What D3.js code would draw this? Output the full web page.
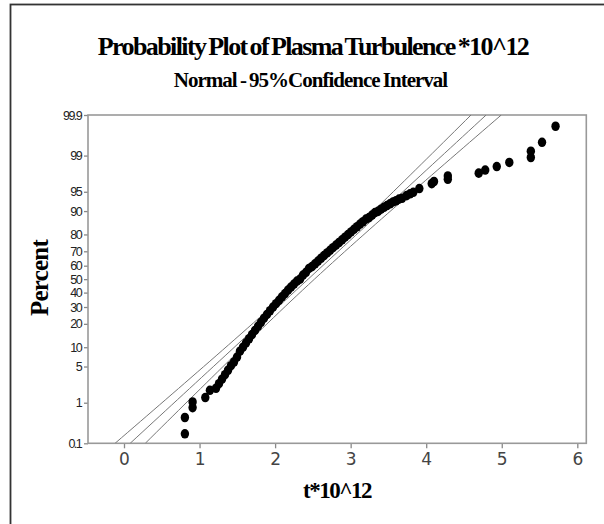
<!DOCTYPE html>
<html>
<head>
<meta charset="utf-8">
<script src="https://cdn.jsdelivr.net/npm/d3@7"></script>
<style>
  body { margin: 0; background: #fff; }
  svg { display: block; }
</style>
</head>
<body>
<svg width="604" height="524"></svg>
<script>
// observed values (t*10^12) and their plotted percent
const tValues = [
  0.806, 0.806, 0.908, 0.908, 1.076, 1.137,
  1.218, 1.257, 1.297, 1.337, 1.377, 1.416, 1.456, 1.496, 1.535, 1.575,
  1.615, 1.655, 1.694, 1.734, 1.774, 1.813, 1.853, 1.893, 1.932, 1.972,
  2.012, 2.052, 2.091, 2.131, 2.171, 2.210, 2.250, 2.290, 2.330, 2.369,
  2.409, 2.449, 2.488, 2.528, 2.568, 2.608, 2.647, 2.687, 2.727, 2.766,
  2.806, 2.846, 2.886, 2.925, 2.965, 3.005, 3.044, 3.084, 3.124, 3.163,
  3.203, 3.243, 3.283, 3.322, 3.362, 3.402, 3.441, 3.481, 3.521, 3.561,
  3.600, 3.640, 3.680,
  3.740, 3.786, 3.829, 3.909, 4.073, 4.103, 4.286, 4.286, 4.695, 4.781,
  4.934, 5.100, 5.385, 5.385, 5.533, 5.712
];
const pctValues = [
  0.18, 0.46, 0.78, 1.04, 1.29, 1.82,
  2.00, 2.45, 2.98, 3.60, 4.32, 5.16, 5.94, 7.11, 8.74, 10.0,
  11.5, 13.1, 14.8, 16.7, 18.7, 20.8, 23.1, 25.3, 27.6, 29.9,
  32.2, 34.5, 36.9, 39.3, 41.8, 44.0, 46.3, 48.5, 50.0, 53.0,
  55.1, 58.0, 59.3, 61.3, 63.3, 65.3, 67.1, 68.9, 70.6, 72.3,
  73.9, 75.5, 77.0, 78.5, 79.9, 81.3, 82.6, 83.8, 85.0, 86.0,
  87.1, 87.7, 88.6, 89.5, 89.9, 90.6, 91.2, 91.7, 92.2, 92.7,
  93.0, 93.4, 93.6,
  94.2, 94.6, 94.9, 95.6, 96.4, 96.7, 97.0, 97.4, 97.7, 98.0,
  98.3, 98.6, 98.9, 99.2, 99.5, 99.8
];

// fitted normal and CI settings
const fitMean = 2.4375;
const fitSd = 0.7623;
const sampleSize = 322;
const zConf = 1.96;

const xTicks = [0, 1, 2, 3, 4, 5, 6];
const pctTicks = [0.1, 1, 5, 10, 20, 30, 40, 50, 60, 70, 80, 90, 95, 99, 99.9];

// inverse normal cdf (Acklam)
const probit = p => {
  const a = [-3.969683028665376e+01, 2.209460984245205e+02, -2.759285104469687e+02, 1.383577518672690e+02, -3.066479806614716e+01, 2.506628277459239e+00];
  const b = [-5.447609879822406e+01, 1.615858368580409e+02, -1.556989798598866e+02, 6.680131188771972e+01, -1.328068155288572e+01];
  const c = [-7.784894002430293e-03, -3.223964580411365e-01, -2.400758277161838e+00, -2.549732539343734e+00, 4.374664141464968e+00, 2.938163982698783e+00];
  const d = [7.784695709041462e-03, 3.224671290700398e-01, 2.445134137142996e+00, 3.754408661907416e+00];
  const plow = 0.02425;
  let q, r;
  if (p < plow) {
    q = Math.sqrt(-2 * Math.log(p));
    return (((((c[0]*q+c[1])*q+c[2])*q+c[3])*q+c[4])*q+c[5]) / ((((d[0]*q+d[1])*q+d[2])*q+d[3])*q+1);
  } else if (p <= 1 - plow) {
    q = p - 0.5; r = q * q;
    return (((((a[0]*r+a[1])*r+a[2])*r+a[3])*r+a[4])*r+a[5])*q / (((((b[0]*r+b[1])*r+b[2])*r+b[3])*r+b[4])*r+1);
  } else {
    q = Math.sqrt(-2 * Math.log(1 - p));
    return -(((((c[0]*q+c[1])*q+c[2])*q+c[3])*q+c[4])*q+c[5]) / ((((d[0]*q+d[1])*q+d[2])*q+d[3])*q+1);
  }
};

const svg = d3.select('svg');

// outer frame (runs off the right and bottom)
svg.append('rect')
  .attr('x', 10.5).attr('y', 4.5)
  .attr('width', 700).attr('height', 700)
  .attr('fill', 'none')
  .attr('stroke', '#333')
  .attr('stroke-width', 1.8);

// plot box
const box = {left: 88, top: 115, right: 586.3, bottom: 443.3};

const zMin = probit(0.001), zMax = probit(0.999);

const xScale = d3.scaleLinear()
  .domain([-0.4765, 6.119])
  .range([box.left, box.right]);

const yScale = d3.scaleLinear()
  .domain([zMin, zMax])
  .range([box.bottom, box.top]);

// titles
svg.append('text')
  .attr('x', 313).attr('y', 55)
  .attr('text-anchor', 'middle')
  .attr('font-family', 'Liberation Serif, Times New Roman, serif')
  .attr('font-weight', 'bold')
  .attr('font-size', 26)
  .attr('letter-spacing', '-1.6px')
  .attr('word-spacing', '-2px')
  .text('Probability Plot of Plasma Turbulence *10^12');

svg.append('text')
  .attr('x', 310.5).attr('y', 87)
  .attr('text-anchor', 'middle')
  .attr('font-family', 'Liberation Serif, Times New Roman, serif')
  .attr('font-weight', 'bold')
  .attr('font-size', 21)
  .attr('letter-spacing', '-1px')
  .attr('word-spacing', '-1px')
  .text('Normal - 95%Confidence Interval');

// clip for the lines
svg.append('clipPath').attr('id', 'plotclip')
  .append('rect')
  .attr('x', box.left).attr('y', box.top)
  .attr('width', box.right - box.left).attr('height', box.bottom - box.top);

// axes
const xAxis = svg.append('g')
  .attr('transform', `translate(0, ${box.bottom})`)
  .call(d3.axisBottom(xScale).tickValues(xTicks).tickFormat(d3.format('d'))
    .tickSize(5).tickPadding(5).tickSizeOuter(0));

const yAxis = svg.append('g')
  .attr('transform', `translate(${box.left}, 0)`)
  .call(d3.axisLeft(yScale)
    .tickValues(pctTicks.map(p => probit(p / 100)))
    .tickFormat((d, i) => pctTicks[i])
    .tickSize(4).tickPadding(3).tickSizeOuter(0));

xAxis.select('.domain').remove();
yAxis.select('.domain').remove();

xAxis.selectAll('.tick line').attr('stroke', '#888').attr('stroke-width', 1.3);
yAxis.selectAll('.tick line').attr('stroke', '#888').attr('stroke-width', 1.3);

xAxis.selectAll('text')
  .attr('font-family', 'DejaVu Sans, Verdana, sans-serif')
  .attr('font-size', 17)
  .attr('fill', '#444');

yAxis.selectAll('text')
  .attr('font-family', 'Liberation Sans, Arial, sans-serif')
  .attr('font-size', 12.5)
  .attr('letter-spacing', '-1.6px')
  .attr('fill', '#222');

// plot border
svg.append('rect')
  .attr('x', box.left).attr('y', box.top)
  .attr('width', box.right - box.left).attr('height', box.bottom - box.top)
  .attr('fill', 'none')
  .attr('stroke', '#999')
  .attr('stroke-width', 1.6);

// fit line and confidence bounds
const zGrid = d3.range(0, 61).map(i => zMin + (zMax - zMin) * i / 60);
const halfWidth = z => zConf * fitSd * Math.sqrt((1 + z * z / 2) / sampleSize);
const lineGen = offset => d3.line()
  .x(z => xScale(fitMean + z * fitSd + offset(z)))
  .y(z => yScale(z));

const lines = svg.append('g').attr('clip-path', 'url(#plotclip)');
[z => -halfWidth(z), z => 0, z => halfWidth(z)].forEach(off => {
  lines.append('path')
    .datum(zGrid)
    .attr('d', lineGen(off))
    .attr('fill', 'none')
    .attr('stroke', '#777')
    .attr('stroke-width', 1);
});

// points
svg.append('g')
  .selectAll('ellipse')
  .data(tValues.map((t, i) => ({t: t, p: pctValues[i]})))
  .enter()
  .append('ellipse')
    .attr('cx', d => xScale(d.t))
    .attr('cy', d => yScale(probit(d.p / 100)))
    .attr('rx', 4.2)
    .attr('ry', 4.8)
    .attr('fill', '#000');

// axis labels
svg.append('text')
  .attr('x', 337).attr('y', 498)
  .attr('text-anchor', 'middle')
  .attr('font-family', 'Liberation Serif, Times New Roman, serif')
  .attr('font-weight', 'bold')
  .attr('font-size', 23)
  .attr('letter-spacing', '-1.5px')
  .text('t*10^12');

svg.append('text')
  .attr('transform', 'translate(48, 278) rotate(-90)')
  .attr('text-anchor', 'middle')
  .attr('font-family', 'Liberation Serif, Times New Roman, serif')
  .attr('font-weight', 'bold')
  .attr('font-size', 25)
  .attr('letter-spacing', '-0.8px')
  .text('Percent');
</script>
</body>
</html>
